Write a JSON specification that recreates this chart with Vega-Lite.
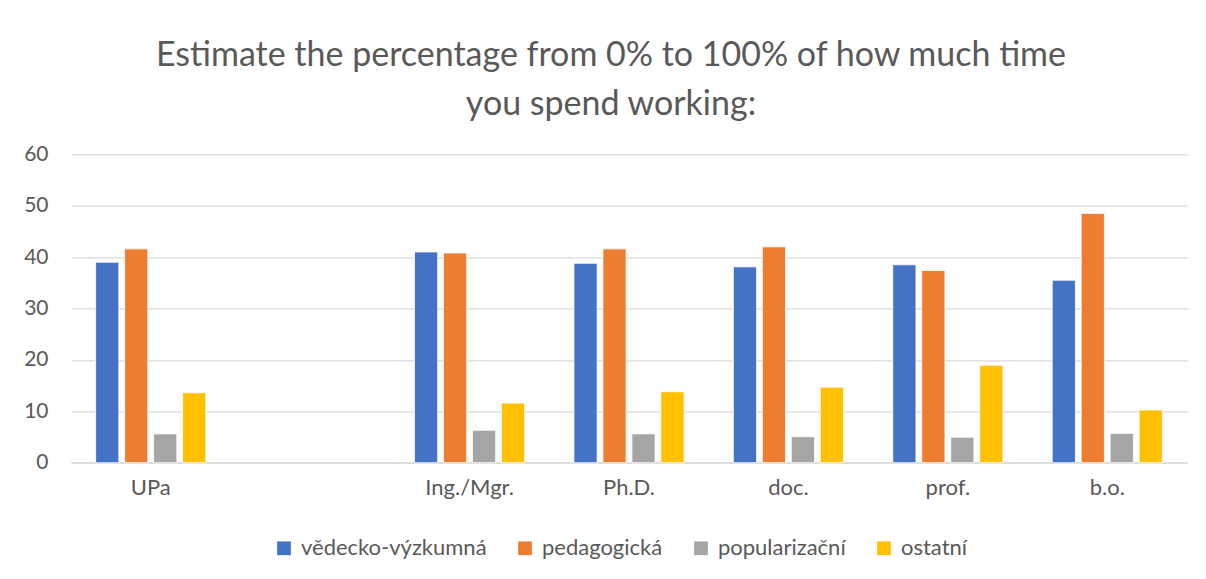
{
  "$schema": "https://vega.github.io/schema/vega-lite/v6.json",
  "width": 1116,
  "height": 308.4,
  "autosize": "none",
  "padding": {"left": 71, "top": 154.3, "right": 19, "bottom": 116},
  "background": "white",
  "title": {
    "text": ["Estimate the percentage from 0% to 100% of how much time", "you spend working:"],
    "font": "Lato",
    "fontSize": 34,
    "fontWeight": "normal",
    "color": "#595959",
    "anchor": "middle",
    "dx": -18,
    "lineHeight": 49,
    "offset": 21
  },
  "data": {
    "values": [
      {"group": "UPa", "type": "vědecko-výzkumná", "value": 39.0},
      {"group": "UPa", "type": "pedagogická", "value": 41.6},
      {"group": "UPa", "type": "popularizační", "value": 5.6},
      {"group": "UPa", "type": "ostatní", "value": 13.6},
      {"group": "Ing./Mgr.", "type": "vědecko-výzkumná", "value": 41.0},
      {"group": "Ing./Mgr.", "type": "pedagogická", "value": 40.8},
      {"group": "Ing./Mgr.", "type": "popularizační", "value": 6.3},
      {"group": "Ing./Mgr.", "type": "ostatní", "value": 11.6},
      {"group": "Ph.D.", "type": "vědecko-výzkumná", "value": 38.8},
      {"group": "Ph.D.", "type": "pedagogická", "value": 41.6},
      {"group": "Ph.D.", "type": "popularizační", "value": 5.6},
      {"group": "Ph.D.", "type": "ostatní", "value": 13.8},
      {"group": "doc.", "type": "vědecko-výzkumná", "value": 38.1},
      {"group": "doc.", "type": "pedagogická", "value": 42.0},
      {"group": "doc.", "type": "popularizační", "value": 5.05},
      {"group": "doc.", "type": "ostatní", "value": 14.7},
      {"group": "prof.", "type": "vědecko-výzkumná", "value": 38.5},
      {"group": "prof.", "type": "pedagogická", "value": 37.4},
      {"group": "prof.", "type": "popularizační", "value": 4.95},
      {"group": "prof.", "type": "ostatní", "value": 18.95},
      {"group": "b.o.", "type": "vědecko-výzkumná", "value": 35.5},
      {"group": "b.o.", "type": "pedagogická", "value": 48.5},
      {"group": "b.o.", "type": "popularizační", "value": 5.7},
      {"group": "b.o.", "type": "ostatní", "value": 10.25}
    ]
  },
  "mark": {"type": "bar", "stroke": "white", "strokeWidth": 0.8},
  "encoding": {
    "x": {
      "field": "group",
      "type": "nominal",
      "sort": null,
      "scale": {"domain": ["UPa", " ", "Ing./Mgr.", "Ph.D.", "doc.", "prof.", "b.o."], "paddingInner": 0, "paddingOuter": 0},
      "axis": {
        "title": null,
        "labelAngle": 0,
        "labelFont": "Lato",
        "labelFontSize": 22,
        "labelColor": "#595959",
        "labelPadding": 15,
        "ticks": false,
        "domain": true,
        "domainColor": "#d9d9d9",
        "domainWidth": 1.3
      }
    },
    "xOffset": {
      "field": "type",
      "type": "nominal",
      "sort": ["vědecko-výzkumná", "pedagogická", "popularizační", "ostatní"],
      "scale": {"paddingInner": 0.2, "paddingOuter": 0.85}
    },
    "y": {
      "field": "value",
      "type": "quantitative",
      "scale": {"domain": [0, 60], "nice": false},
      "axis": {
        "title": null,
        "values": [0, 10, 20, 30, 40, 50, 60],
        "labelFont": "Lato",
        "labelFontSize": 21,
        "labelColor": "#595959",
        "labelPadding": 23,
        "ticks": false,
        "domain": false,
        "grid": true,
        "gridColor": "#d9d9d9",
        "gridWidth": 1.3
      }
    },
    "color": {
      "field": "type",
      "type": "nominal",
      "sort": ["vědecko-výzkumná", "pedagogická", "popularizační", "ostatní"],
      "scale": {
        "domain": ["vědecko-výzkumná", "pedagogická", "popularizační", "ostatní"],
        "range": ["#4472C4", "#ED7D31", "#A5A5A5", "#FFC000"]
      },
      "legend": {
        "title": null,
        "orient": "none",
        "direction": "horizontal",
        "legendX": 202,
        "legendY": 383,
        "padding": 0,
        "symbolType": "square",
        "symbolSize": 188,
        "symbolStrokeWidth": 0,
        "labelFont": "Lato",
        "labelFontSize": 22,
        "labelColor": "#595959",
        "labelOffset": 6,
        "labelLimit": 400,
        "columnPadding": 27
      }
    }
  },
  "config": {
    "view": {"stroke": null}
  }
}
